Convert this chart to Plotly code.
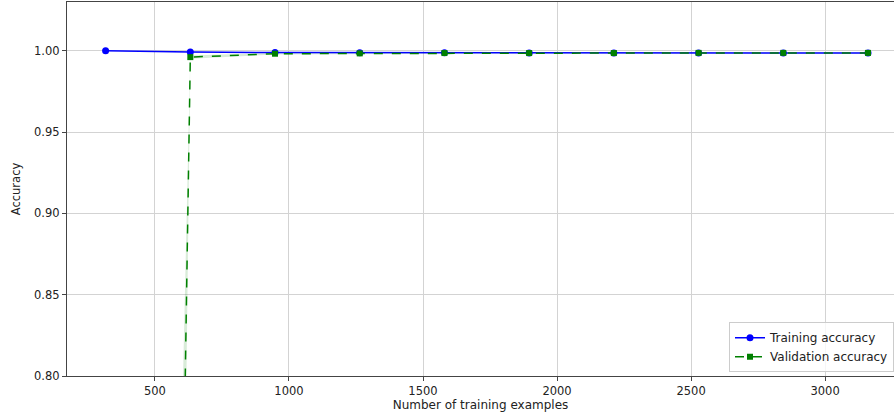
import plotly.graph_objects as go

train_sizes = [316, 632, 948, 1264, 1580, 1896, 2212, 2528, 2844, 3160]
train_mean = [1.0000, 0.9992, 0.9989, 0.9988, 0.9988, 0.9987, 0.9987, 0.9987, 0.9987, 0.9987]
train_std = [0.0, 0.0002, 0.0002, 0.0001, 0.0001, 0.0001, 0.0001, 0.0001, 0.0001, 0.0001]
val_mean = [-2.3, 0.9961, 0.9982, 0.9984, 0.9986, 0.9986, 0.9986, 0.9987, 0.9987, 0.9987]
val_std = [1.0, 0.001, 0.0005, 0.0004, 0.0003, 0.0003, 0.0003, 0.0003, 0.0003, 0.0003]

y_ticks = [0.80, 0.85, 0.90, 0.95, 1.00]
x_ticks = [500, 1000, 1500, 2000, 2500, 3000]

FONT = "DejaVu Sans"

fig = go.Figure()

# training band
fig.add_trace(go.Scatter(x=train_sizes, y=[m + s for m, s in zip(train_mean, train_std)],
                         mode="lines", line=dict(width=0), showlegend=False, hoverinfo="skip"))
fig.add_trace(go.Scatter(x=train_sizes, y=[m - s for m, s in zip(train_mean, train_std)],
                         mode="lines", line=dict(width=0), fill="tonexty",
                         fillcolor="rgba(0,0,255,0.15)", showlegend=False, hoverinfo="skip"))
# validation band
fig.add_trace(go.Scatter(x=train_sizes, y=[m + s for m, s in zip(val_mean, val_std)],
                         mode="lines", line=dict(width=0), showlegend=False, hoverinfo="skip"))
fig.add_trace(go.Scatter(x=train_sizes, y=[m - s for m, s in zip(val_mean, val_std)],
                         mode="lines", line=dict(width=0), fill="tonexty",
                         fillcolor="rgba(0,128,0,0.15)", showlegend=False, hoverinfo="skip"))

fig.add_trace(go.Scatter(x=train_sizes, y=train_mean, mode="lines+markers",
                         name="Training accuracy",
                         line=dict(color="#0000ff", width=1.5),
                         marker=dict(symbol="circle", size=7, color="#0000ff")))
fig.add_trace(go.Scatter(x=train_sizes, y=val_mean, mode="lines+markers",
                         name="Validation accuracy",
                         line=dict(color="#008000", width=1.5, dash="dash"),
                         marker=dict(symbol="square", size=6, color="#008000")))

axis_common = dict(
    showgrid=True, gridcolor="#d3d3d3", gridwidth=1,
    showline=True, linecolor="#444444", linewidth=1.2,
    ticks="outside", ticklen=4, tickcolor="#444444",
    tickfont=dict(family=FONT, size=11.5, color="#222222"),
    zeroline=False,
)

fig.update_layout(
    width=894, height=417,
    margin=dict(l=67, r=0, t=2, b=41),
    paper_bgcolor="white", plot_bgcolor="white",
    font=dict(family=FONT, size=11, color="#222222"),
    xaxis=dict(range=[172, 3257], tickvals=x_ticks, mirror=True,
               title=dict(text="Number of training examples", standoff=3,
                          font=dict(family=FONT, size=12, color="#222222")),
               automargin=False, **axis_common),
    yaxis=dict(range=[0.80, 1.03], tickvals=y_ticks, tickformat=".2f",
               title=dict(text="Accuracy", standoff=10,
                          font=dict(family=FONT, size=11.5, color="#222222")),
               automargin=False, **axis_common),
    legend=dict(x=1, y=0.01, xanchor="right", yanchor="bottom",
                traceorder="normal",
                bgcolor="rgba(255,255,255,0.8)", bordercolor="#cccccc", borderwidth=1,
                font=dict(family=FONT, size=12, color="#222222"),
                tracegroupgap=0, itemwidth=30),
    showlegend=True,
)

fig.write_html("out.html")
